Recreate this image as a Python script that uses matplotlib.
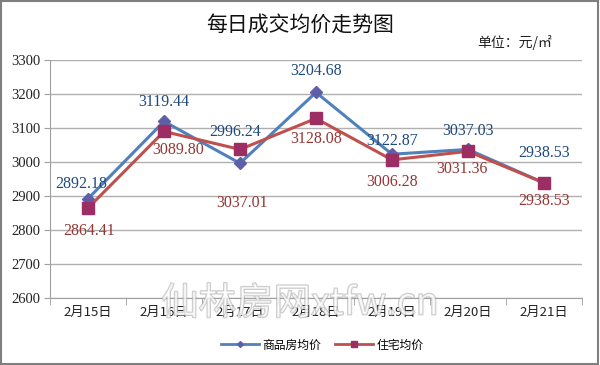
import matplotlib
matplotlib.use("Agg")
import matplotlib.pyplot as plt
import matplotlib.patheffects as pe
from matplotlib.lines import Line2D
from matplotlib.patches import Rectangle

plt.rcParams['font.family'] = ['Noto Sans CJK SC', 'DejaVu Sans']

dates = ["2月15日", "2月16日", "2月17日", "2月18日", "2月19日", "2月20日", "2月21日"]
commercial = [2892.18, 3119.44, 2996.24, 3204.68, 3022.87, 3037.03, 2938.53]
residential = [2864.41, 3089.80, 3037.01, 3128.08, 3006.28, 3031.36, 2938.53]
commercial_labels = ["2892.18", "3119.44", "2996.24", "3204.68", "3122.87", "3037.03", "2938.53"]
residential_labels = ["2864.41", "3089.80", "3037.01", "3128.08", "3006.28", "3031.36", "2938.53"]
yticks = [2600, 2700, 2800, 2900, 3000, 3100, 3200, 3300]

# label offsets in pixels (style)
c_off = [(-7, 15), (0, 19), (-5, 31), (0, 21), (0, 13), (0, 18), (0, 30)]
r_off = [(1, -23), (14, -19), (2, -54), (0, -21), (0, -22), (-6, -18), (0, -18)]

fig = plt.figure(figsize=(6.0, 3.65), dpi=100)
fig.patches.append(Rectangle((0.002, 0.003), 0.995, 0.994, transform=fig.transFigure,
                             fill=False, edgecolor='#7f7f7f', linewidth=1.5))
ax = fig.add_axes([50/600, 1-298/365, 532/600, 238/365])

x = list(range(len(dates)))
blue_line = '#4F81BD'
red_line = '#C0504D'
ax.plot(x, commercial, color=blue_line, lw=2.2, marker='D', ms=6.5,
        mfc='#5D5FA8', mec='#5D5FA8', zorder=3)
ax.plot(x, residential, color=red_line, lw=2.2, marker='s', ms=8,
        mfc='#9C2E63', mec='#9C2E63', zorder=4)

ax.set_xlim(-0.5, len(dates) - 0.5)
ax.set_ylim(2600, 3300)
ax.set_yticks(yticks)
ax.set_yticklabels([str(v) for v in yticks])
ax.set_xticks(x)
ax.set_xticklabels(dates)
ax.set_xticks([i + 0.5 for i in range(-1, len(dates))], minor=True)
ax.yaxis.grid(True, color='#b0b0b0', lw=1)
ax.set_axisbelow(True)
for s in ['top', 'right']:
    ax.spines[s].set_visible(False)
ax.spines['left'].set_color('#a0a0a0')
ax.spines['bottom'].set_color('#a0a0a0')
ax.tick_params(axis='x', which='major', length=0, pad=6, labelsize=9.5, colors='#222222')
ax.tick_params(axis='x', which='minor', length=5, color='#a0a0a0', direction='out')
ax.tick_params(axis='y', length=4, color='#a0a0a0', labelsize=9.5, colors='#222222', pad=3)
for lbl in ax.get_yticklabels():
    lbl.set_family(['Liberation Serif'])
    lbl.set_fontsize(10.5)

for i in x:
    ax.annotate(commercial_labels[i], (i, commercial[i]), xytext=c_off[i],
                textcoords='offset pixels', ha='center', va='center',
                fontsize=11.5, color='#1F497D', family=['Liberation Serif'], zorder=5)
    ax.annotate(residential_labels[i], (i, residential[i]), xytext=r_off[i],
                textcoords='offset pixels', ha='center', va='center',
                fontsize=11.5, color='#953735', family=['Liberation Serif'], zorder=5)

fig.text(0.5, 1-25/365, "每日成交均价走势图", ha='center', va='center', fontsize=15, color='#111111')
fig.text(515/600, 1-42/365, "单位：元/㎡", ha='center', va='center', fontsize=10, color='#222222')

# watermark
wm = fig.text(300/600, 1-304/365, "仙林房网xtfw.cn", ha='center', va='center', fontsize=27,
              color='white', alpha=0.55, zorder=10)
wm.set_path_effects([pe.withStroke(linewidth=1.2, foreground='#9a9a9a')])

handles = [Line2D([], [], color=blue_line, lw=2, marker='D', ms=3, mfc='#5D5FA8', mec='#5D5FA8'),
           Line2D([], [], color=red_line, lw=2, marker='s', ms=5, mfc='#9C2E63', mec='#9C2E63')]
fig.legend(handles, ["商品房均价", "住宅均价"], loc='center', bbox_to_anchor=(322/600, 1-345/365),
           ncol=2, frameon=False, fontsize=8.5, handlelength=3.2, columnspacing=1.2, handletextpad=0.3)

fig.savefig("out.png", dpi=100)
